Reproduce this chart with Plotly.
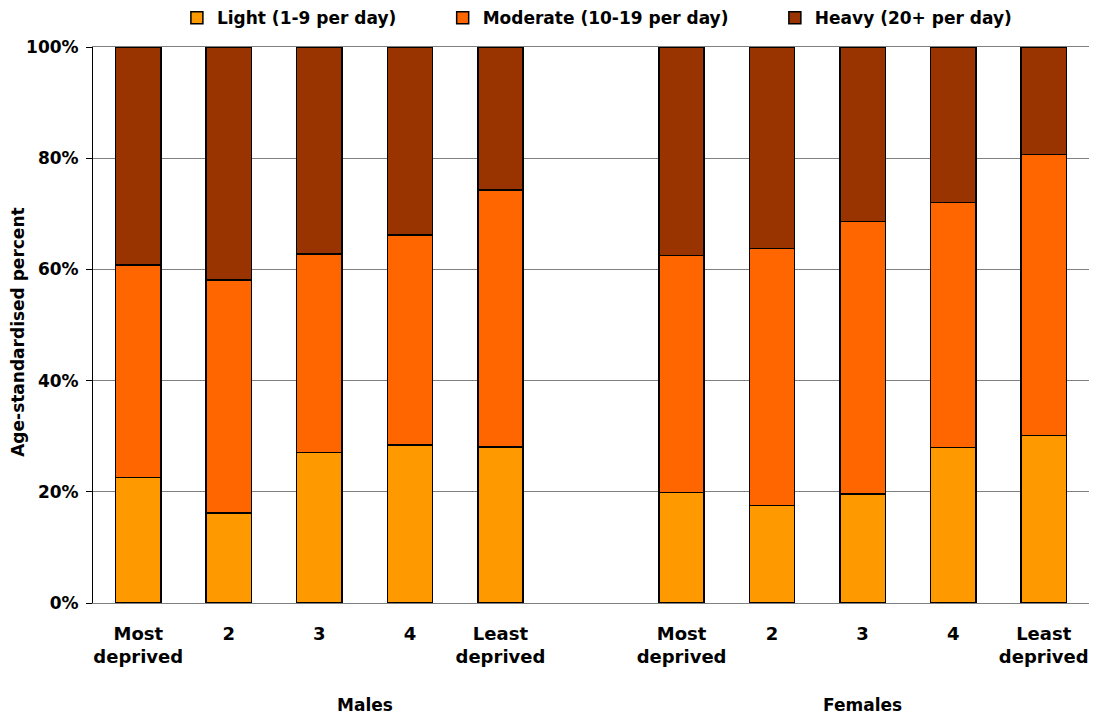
import plotly.graph_objects as go

# Deprivation quintiles within each sex group
categories = ["Most<br>deprived", "2", "3", "4", "Least<br>deprived"]
groups = ["Males", "Females"]

# Age-standardised percent of smokers by amount smoked
light_males = [22.6, 16.2, 27.1, 28.4, 28.1]
moderate_males = [38.2, 41.9, 35.7, 37.8, 46.2]
heavy_males = [39.2, 41.9, 37.2, 33.8, 25.7]

light_females = [19.9, 17.5, 19.6, 28.0, 30.1]
moderate_females = [42.6, 46.3, 49.0, 44.0, 50.6]
heavy_females = [37.5, 36.2, 31.4, 28.0, 19.3]

series_names = ["Light (1-9 per day)", "Moderate (10-19 per day)", "Heavy (20+ per day)"]
series_colors = ["#FF9900", "#FF6600", "#993300"]

# Slot positions: males 0-4, an empty slot, females 6-10
x_males = [0, 1, 2, 3, 4]
x_females = [6, 7, 8, 9, 10]
xs = x_males + x_females

series_values = [
    light_males + light_females,
    moderate_males + moderate_females,
    heavy_males + heavy_females,
]

FONT = "DejaVu Sans, Liberation Sans, Arial, sans-serif"
PAD = "\u00a0" * 7  # extra room between legend entries

fig = go.Figure()
for name, color, vals in zip(series_names, series_colors, series_values):
    fig.add_trace(go.Bar(
        x=xs, y=vals, name=name + PAD,
        marker=dict(color=color, line=dict(color="black", width=1.5)),
        width=0.5,
    ))

fig.update_layout(
    barmode="stack",
    width=1095, height=717,
    margin=dict(l=93, r=6, t=47, b=114, autoexpand=False),
    plot_bgcolor="white", paper_bgcolor="white",
    font=dict(family=FONT, size=17, color="black"),
    showlegend=True,
    legend=dict(
        orientation="h", x=0.527, xanchor="center", y=1.052, yanchor="middle",
        font=dict(family=FONT, size=17, color="black", weight="bold"),
        traceorder="normal", itemwidth=30, tracegroupgap=0,
    ),
    xaxis=dict(
        range=[-0.5, 10.5],
        tickmode="array",
        tickvals=xs,
        ticktext=categories + categories,
        tickfont=dict(family=FONT, size=18, color="black", weight="bold"),
        showgrid=False, zeroline=False,
        showline=True, linecolor="#808080", linewidth=1, mirror=True,
        ticks="", ticklabelstandoff=14,
    ),
    yaxis=dict(
        range=[0, 100],
        tickmode="array",
        tickvals=[0, 20, 40, 60, 80, 100],
        ticktext=["0%", "20%", "40%", "60%", "80%", "100%"],
        tickfont=dict(family=FONT, size=17, color="black", weight="bold"),
        showgrid=True, gridcolor="#808080", gridwidth=1,
        zeroline=False,
        showline=True, linecolor="black", linewidth=1,
        ticks="outside", ticklen=6, tickcolor="black",
        ticklabelstandoff=4,
    ),
)

# Vertical axis title
fig.add_annotation(
    x=-0.0753, xref="paper", y=0.486, yref="paper",
    xanchor="center", yanchor="middle", textangle=-90,
    text="Age-standardised percent", showarrow=False,
    font=dict(family=FONT, size=17, color="black", weight="bold"),
)

# Group labels under each set of quintiles
for gx, label in zip([2.5, 8], groups):
    fig.add_annotation(
        x=gx, xref="x", y=-0.184, yref="paper", yanchor="middle",
        text=label, showarrow=False,
        font=dict(family=FONT, size=17, color="black", weight="bold"),
    )

fig.write_html("out.html")
